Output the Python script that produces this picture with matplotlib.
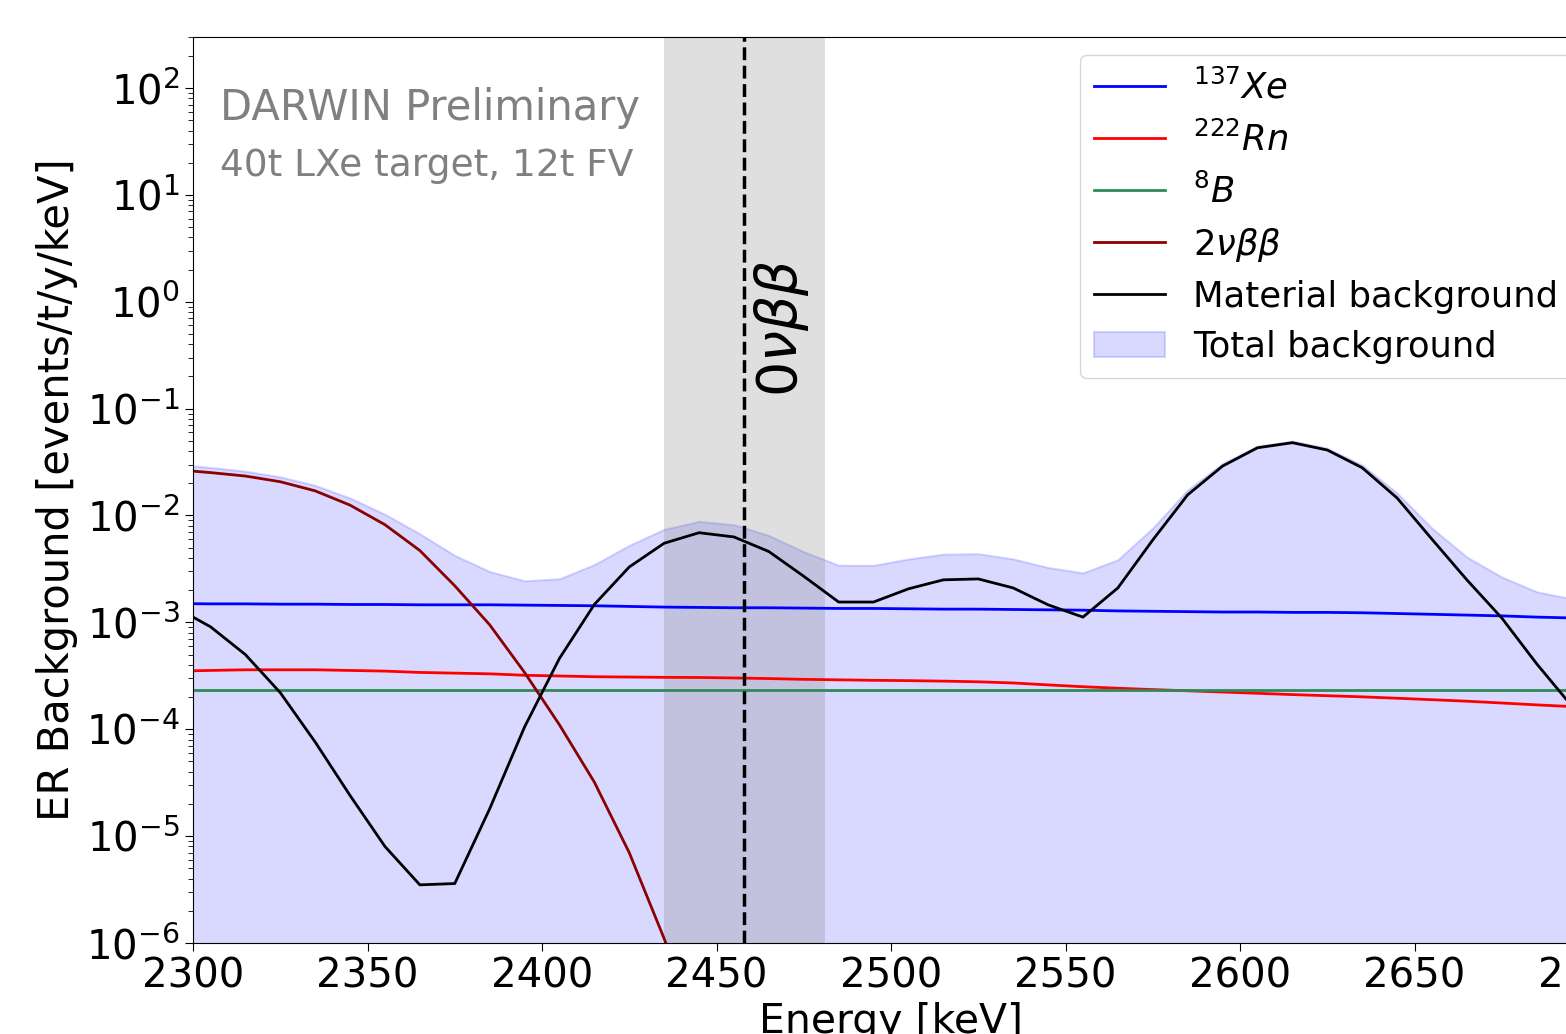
import matplotlib
matplotlib.use("Agg")
import matplotlib.pyplot as plt
import numpy as np

# ── data (10 keV bins) ───────────────────────────────────────────────────────
energy = [2295, 2305, 2315, 2325, 2335, 2345, 2355, 2365, 2375, 2385,
          2395, 2405, 2415, 2425, 2435, 2445, 2455, 2465, 2475, 2485,
          2495, 2505, 2515, 2525, 2535, 2545, 2555, 2565, 2575, 2585,
          2595, 2605, 2615, 2625, 2635, 2645, 2655, 2665, 2675, 2685,
          2695, 2705]

xe137 = [1.50e-3, 1.49e-3, 1.49e-3, 1.48e-3, 1.48e-3, 1.47e-3, 1.47e-3, 1.46e-3, 1.46e-3, 1.46e-3,
         1.45e-3, 1.44e-3, 1.43e-3, 1.41e-3, 1.39e-3, 1.38e-3, 1.37e-3, 1.37e-3, 1.36e-3, 1.35e-3,
         1.35e-3, 1.34e-3, 1.33e-3, 1.33e-3, 1.32e-3, 1.31e-3, 1.30e-3, 1.28e-3, 1.27e-3, 1.26e-3,
         1.25e-3, 1.25e-3, 1.24e-3, 1.24e-3, 1.23e-3, 1.21e-3, 1.19e-3, 1.17e-3, 1.15e-3, 1.12e-3,
         1.10e-3, 1.08e-3]

rn222 = [3.50e-4, 3.55e-4, 3.60e-4, 3.60e-4, 3.60e-4, 3.55e-4, 3.50e-4, 3.40e-4, 3.35e-4, 3.30e-4,
         3.20e-4, 3.15e-4, 3.10e-4, 3.08e-4, 3.06e-4, 3.05e-4, 3.02e-4, 2.98e-4, 2.93e-4, 2.90e-4,
         2.87e-4, 2.85e-4, 2.82e-4, 2.78e-4, 2.71e-4, 2.60e-4, 2.50e-4, 2.42e-4, 2.35e-4, 2.29e-4,
         2.23e-4, 2.17e-4, 2.11e-4, 2.06e-4, 2.01e-4, 1.95e-4, 1.89e-4, 1.83e-4, 1.76e-4, 1.69e-4,
         1.63e-4, 1.57e-4]

b8 = [2.35e-4] * len(energy)

bb2nu = [2.68e-2, 2.52e-2, 2.34e-2, 2.07e-2, 1.70e-2, 1.25e-2, 8.2e-3, 4.7e-3, 2.2e-3, 9.5e-4,
         3.4e-4, 1.1e-4, 3.2e-5, 7.0e-6, 1.1e-6, 1.5e-7, 1.8e-8, 2.0e-9, 2.0e-10, 2.0e-11,
         2.0e-12, 1.0e-13, 1.0e-14, 1.0e-15, 1.0e-16, 1.0e-17, 1.0e-18, 1.0e-19, 1.0e-20, 1.0e-21,
         1.0e-22, 1.0e-23, 1.0e-24, 1.0e-25, 1.0e-26, 1.0e-27, 1.0e-28, 1.0e-29, 1.0e-30, 1.0e-31,
         1.0e-32, 1.0e-33]

material = [1.38e-3, 9.1e-4, 5.0e-4, 2.2e-4, 7.6e-5, 2.4e-5, 8.0e-6, 3.5e-6, 3.6e-6, 1.8e-5,
            1.05e-4, 4.6e-4, 1.47e-3, 3.3e-3, 5.5e-3, 6.9e-3, 6.3e-3, 4.6e-3, 2.7e-3, 1.55e-3,
            1.55e-3, 2.06e-3, 2.5e-3, 2.55e-3, 2.1e-3, 1.46e-3, 1.12e-3, 2.1e-3, 5.9e-3, 1.56e-2,
            2.9e-2, 4.3e-2, 4.8e-2, 4.1e-2, 2.8e-2, 1.46e-2, 6.0e-3, 2.5e-3, 1.1e-3, 4.1e-4,
            1.66e-4, 6.0e-5]

Q_BB = 2458
ROI = (2435, 2481)

total = np.sum([xe137, rn222, b8, bb2nu, material], axis=0)

# ── figure ───────────────────────────────────────────────────────────────────
W, H = 1566, 1034
fig = plt.figure(figsize=(W / 100, H / 100), dpi=100)
# axes run past the right edge of the canvas, as in the reference crop
ax = fig.add_axes([193 / W, 1 - 943 / H, (1589 - 193) / W, (943 - 37) / H])

ax.fill_between(energy, 1e-9, total, color="blue", alpha=0.15, lw=1.5,
                label="Total background")
ax.plot(energy, xe137, color="blue", lw=2, label=r"$^{137}Xe$")
ax.plot(energy, rn222, color="red", lw=2, label=r"$^{222}Rn$")
ax.plot(energy, b8, color="seagreen", lw=2, label=r"$^{8}B$")
ax.plot(energy, bb2nu, color="darkred", lw=2, label=r"$2\nu\beta\beta$")
ax.plot(energy, material, color="black", lw=2, label="Material background")

ax.axvspan(*ROI, color="grey", alpha=0.25, lw=0)
ax.axvline(Q_BB, color="black", ls="--", lw=2.5)
ax.text(2468.5, 0.57, r"$0\nu\beta\beta$", rotation=90, fontsize=40,
        ha="center", va="center")

ax.set_yscale("log")
ax.set_xlim(2300, 2700)
ax.set_ylim(1e-6, 300)
ax.tick_params(labelsize=29, length=6)
ax.tick_params(which="minor", length=3.5)
ax.set_xlabel("Energy [keV]", fontsize=29.5)
ax.set_ylabel("ER Background [events/t/y/keV]", fontsize=30, labelpad=6)

ax.text(0.019, 0.908, "DARWIN Preliminary", transform=ax.transAxes,
        fontsize=30, color="grey", va="baseline")
ax.text(0.019, 0.847, "40t LXe target, 12t FV", transform=ax.transAxes,
        fontsize=27, color="grey", va="baseline")

handles, labels = ax.get_legend_handles_labels()
order = [1, 2, 3, 4, 5, 0]
ax.legend([handles[i] for i in order], [labels[i] for i in order],
          loc="upper left", bbox_to_anchor=(0.6354, 0.98), fontsize=25.5,
          labelspacing=0.45, borderaxespad=0)

fig.savefig("out.png", dpi=100)
